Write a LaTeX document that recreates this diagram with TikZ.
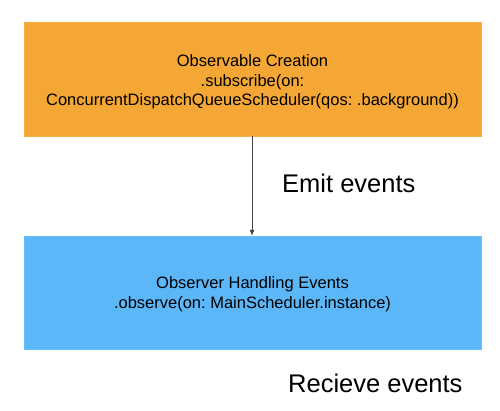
\documentclass[tikz,border=0pt]{standalone}
\usepackage{fontspec}
\setmainfont{Liberation Sans}
\usetikzlibrary{arrows.meta}
\definecolor{boxorange}{RGB}{245,167,53}
\definecolor{boxblue}{RGB}{91,183,248}
\tikzset{
  box/.style={rectangle, minimum width=457pt, minimum height=114pt, inner sep=0pt},
  boxtext/.style={align=center, inner sep=0pt, font=\fontsize{16.5}{19.7}\selectfont},
  biglabel/.style={font=\fontsize{25.5}{30}\selectfont, inner sep=0pt, anchor=west},
  flow/.style={draw=black!75, line width=0.8pt, -{Latex[length=6pt,width=5pt]}}
}
\begin{document}
\frenchspacing
\begin{tikzpicture}[x=1pt,y=-1pt]
\useasboundingbox (0,0) rectangle (500,410);
\node[box, fill=boxorange, draw=boxorange!90!white] (obs) at (252.5,79) {};
\node[boxtext] (obstext) at (252.5,82) {Observable Creation\\.subscribe(on:\\ConcurrentDispatchQueueScheduler(qos: .background))};
\node[box, fill=boxblue, draw=boxblue!90!white, minimum height=113pt] (obr) at (252.5,292.5) {};
\node[boxtext] (obrtext) at (252.5,294.5) {Observer Handling Events\\.observe(on: MainScheduler.instance)};
\draw[flow] (obs.south -| 252,0) -- (obr.north -| 252,0);
\node[biglabel] (emit) at (282,183) {Emit events};
\node[biglabel] (recv) at (288,383) {Recieve events};
\end{tikzpicture}
\end{document}
